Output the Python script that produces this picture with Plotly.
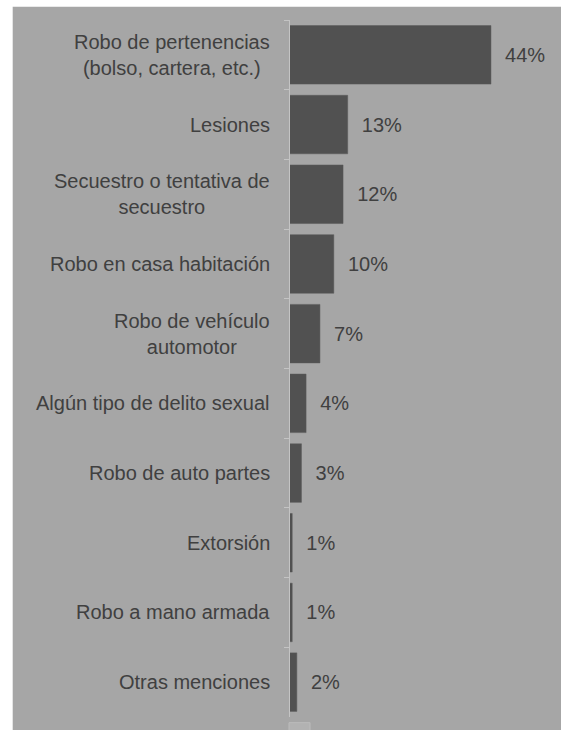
import plotly.graph_objects as go

categories = [
    "Robo de pertenencias<br>(bolso, cartera, etc.)",
    "Lesiones",
    "Secuestro o tentativa de<br>secuestro",
    "Robo en casa habitación",
    "Robo de vehículo<br>automotor",
    "Algún tipo de delito sexual",
    "Robo de auto partes",
    "Extorsión",
    "Robo a mano armada",
    "Otras menciones",
]
values = [44, 13, 12, 10, 7, 4, 3, 1, 1, 2]
value_labels = ["44%", "13%", "12%", "10%", "7%", "4%", "3%", "1%", "1%", "2%"]

BG = "#a6a6a6"
BAR = "#515151"
TXT = "#404040"
FONT = "Liberation Sans, Arial, sans-serif"

W, H = 561, 730
ML, MT, MB = 290, 20, 13
PW = W - ML
PH = H - MT - MB

fig = go.Figure()
fig.add_trace(go.Bar(
    y=categories,
    x=values,
    orientation="h",
    marker=dict(color=BAR, line=dict(color="#5a5a5a", width=0.5)),
    text=["\u00a0\u00a0" + t for t in value_labels],
    textposition="outside",
    textfont=dict(family=FONT, size=20, color=TXT),
    cliponaxis=False,
    hoverinfo="skip",
))

annotations = []
for c in categories:
    annotations.append(dict(
        x=0, y=c, xref="paper", yref="y",
        text=c, showarrow=False, xanchor="right", yanchor="middle",
        align="center", xshift=-18,
        font=dict(family=FONT, size=20, color=TXT),
    ))

shapes = [
    # white strips at left and top edges
    dict(type="rect", xref="paper", yref="paper", x0=-1.2, x1=(12.7 - ML) / PW,
         y0=-0.1, y1=1.1, fillcolor="white", line=dict(width=0), layer="above"),
    dict(type="rect", xref="paper", yref="paper", x0=-1.2, x1=1.1,
         y0=1 + (MT - 6.7) / PH, y1=1.1, fillcolor="white", line=dict(width=0), layer="above"),
    # small lighter block under the axis at the bottom
    dict(type="rect", xref="paper", yref="paper",
         x0=(289 - ML) / PW, x1=(310 - ML) / PW,
         y0=-(H + 1 - (MT + PH)) / PH, y1=-(722.7 - (MT + PH)) / PH,
         fillcolor="#b2b2b2", line=dict(color="#bcbcbc", width=1), layer="above"),
]

fig.update_layout(
    width=W, height=H,
    margin=dict(l=ML, r=0, t=MT, b=MB),
    paper_bgcolor=BG,
    plot_bgcolor=BG,
    showlegend=False,
    bargap=0.16,
    annotations=annotations,
    shapes=shapes,
    font=dict(family=FONT, size=20, color=TXT),
)
fig.update_xaxes(range=[0.52, 59.15], visible=False, showgrid=False, zeroline=False)
fig.update_yaxes(
    type="category", autorange="reversed",
    showticklabels=False,
    showline=True, linecolor="#c4c4c4", linewidth=1,
    ticks="outside", ticklen=5, tickcolor="#c4c4c4", tickwidth=1,
    tickson="boundaries", showgrid=False, zeroline=False,
)

fig.write_html(
    "out.html",
    config={"displayModeBar": False, "staticPlot": True},
    post_script="document.body.style.margin='0';document.body.style.overflow='hidden';",
)
